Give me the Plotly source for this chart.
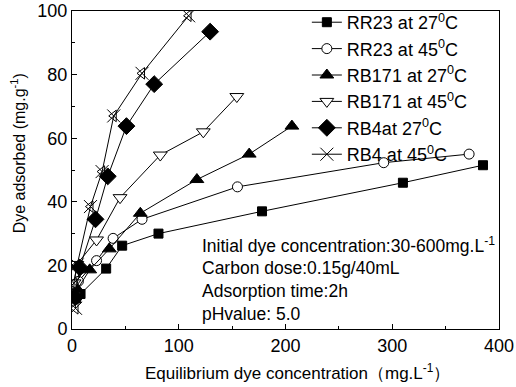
import plotly.graph_objects as go

# ---- data ----
rr23_27_x = [4, 8, 32, 47, 81, 178, 310, 385]
rr23_27_y = [9.6, 11, 19, 26.2, 30, 37, 46, 51.5]
rr23_45_x = [3, 6, 23, 38.5, 65.6, 155, 292, 372]
rr23_45_y = [11.5, 15, 21.5, 28.5, 34.5, 44.7, 52.3, 55]
rb171_27_x = [3, 5, 16.6, 35, 64, 117, 166, 206]
rb171_27_y = [10.5, 12.5, 18.6, 25.2, 36.4, 47, 55, 63.8]
rb171_45_x = [2, 4.5, 23, 45, 82.7, 123, 154.4]
rb171_45_y = [14.5, 20.3, 28, 41.3, 54.7, 62, 73.1]
rb4_27_x = [3, 7.3, 22, 33.5, 51, 77, 129.4]
rb4_27_y = [10, 19.3, 34.5, 48, 63.8, 77, 93.5]
rb4_45_x = [3.3, 1.7, 4.8, 17.3, 28.2, 39.1, 65.6, 109.2]
rb4_45_y = [6.5, 14.4, 20.1, 38.5, 49.5, 67, 80.4, 98.5]

names = ["RR23 at 27<sup>0</sup>C", "RR23 at 45<sup>0</sup>C", "RB171 at 27<sup>0</sup>C",
         "RB171 at 45<sup>0</sup>C", "RB4at 27<sup>0</sup>C", "RB4 at 45<sup>0</sup>C"]
notes = ["Initial dye concentration:30-600mg.L<sup>-1</sup>", "Carbon dose:0.15g/40mL",
         "Adsorption time:2h", "pHvalue: 5.0"]
x_title = "Equilibrium dye concentration（mg.L<sup>-1</sup>）"
y_title = "Dye adsorbed (mg.g<sup>-1</sup>)"

FONT = "Liberation Sans, Arial, sans-serif"
fig = go.Figure()

series = [
    (rr23_27_x, rr23_27_y, "square", 9, "black"),
    (rr23_45_x, rr23_45_y, "circle", 10, "white"),
    (rb171_27_x, rb171_27_y, "triangle-up", 12, "black"),
    (rb171_45_x, rb171_45_y, "triangle-down", 12, "white"),
    (rb4_27_x, rb4_27_y, "diamond", 13, "black"),
    (rb4_45_x, rb4_45_y, "x-thin", 13, "black"),
]
for (x, y, sym, sz, fill), nm in zip(series, names):
    fig.add_trace(go.Scatter(
        x=x, y=y, mode="lines+markers", name=nm,
        line=dict(color="black", width=1),
        marker=dict(symbol=sym, size=sz, color=fill,
                    line=dict(color="black", width=1)),
    ))
# overlay triangle for the crossed marker
fig.add_trace(go.Scatter(
    x=rb4_45_x, y=rb4_45_y, mode="markers", showlegend=False,
    marker=dict(symbol="triangle-left-open", size=10, color="black",
                line=dict(color="black", width=1)),
))

for i, t in enumerate(notes):
    fig.add_annotation(x=0.30, y=0.264 - i * 0.0725, xref="paper", yref="paper",
                       text=t, showarrow=False, xanchor="left", yanchor="middle",
                       font=dict(family=FONT, size=17.5, color="black"))

fig.add_annotation(x=0.529, y=-0.135, xref="paper", yref="paper", text=x_title,
                   showarrow=False, xanchor="center", yanchor="middle",
                   font=dict(family=FONT, size=17, color="black"))
fig.add_annotation(x=-0.126, y=0.553, xref="paper", yref="paper", text=y_title,
                   showarrow=False, xanchor="center", yanchor="middle", textangle=-90,
                   font=dict(family=FONT, size=16, color="black"))

axis_common = dict(
    showline=True, linecolor="black", linewidth=1, mirror=True,
    ticks="inside", ticklen=5, tickcolor="black", showgrid=False, zeroline=False,
    tickfont=dict(family=FONT, size=18, color="black"), automargin=False,
)
fig.update_xaxes(range=[0, 400], dtick=100, **axis_common,
                 minor=dict(ticks="inside", ticklen=3, dtick=50, tickcolor="black"))
fig.update_yaxes(range=[0, 100], dtick=20, **axis_common,
                 minor=dict(ticks="inside", ticklen=3, dtick=10, tickcolor="black"))

fig.update_layout(
    width=516, height=387,
    margin=dict(l=72, r=17, t=11, b=58, autoexpand=False),
    paper_bgcolor="white", plot_bgcolor="white",
    showlegend=True,
    legend=dict(x=0.55, y=1.022, xanchor="left", yanchor="top",
                bgcolor="rgba(0,0,0,0)", borderwidth=0,
                font=dict(family=FONT, size=18, color="black"),
                tracegroupgap=0, itemwidth=30),
)
fig.write_html("out.html", config={"displayModeBar": False},
               post_script="document.body.style.margin='0px';")
